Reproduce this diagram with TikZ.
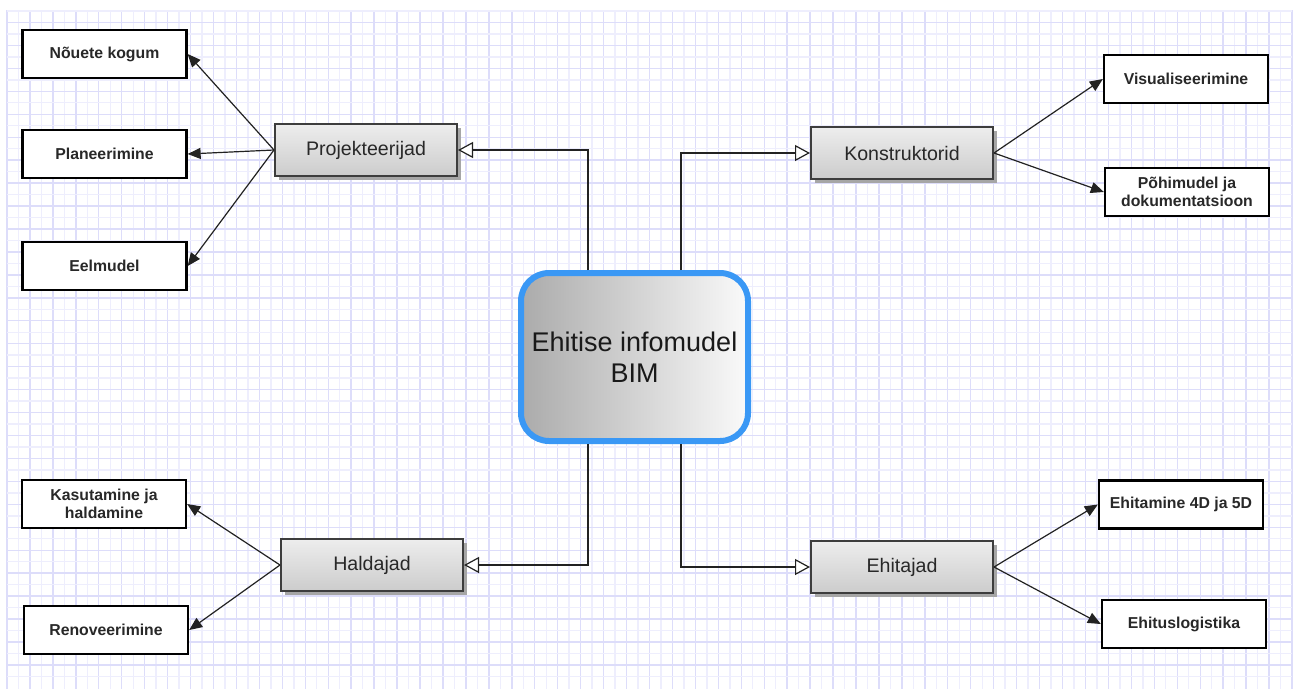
\documentclass[tikz,border=0pt]{standalone}
\usepackage{fontspec}
\setmainfont{Liberation Sans}
\usetikzlibrary{arrows.meta,shadows,calc}
\definecolor{gridminor}{RGB}{238,238,253}
\definecolor{gridmajor}{RGB}{221,221,250}
\definecolor{bimblue}{RGB}{58,152,245}
\definecolor{linegray}{RGB}{34,34,34}
\definecolor{txtgray}{RGB}{40,40,40}
\tikzset{
  leafbox/.style={draw=black, line width=2.3pt, fill=white, minimum width=164pt, minimum height=48pt,
    inner sep=0pt, align=center, text=txtgray, font=\fontsize{15.8}{18}\selectfont\bfseries},
  rolebox/.style={draw=txtgray!90, line width=2pt, top color=white!93!black, bottom color=white!80!black,
    minimum width=182pt, minimum height=52pt, inner sep=0pt, text=txtgray,
    font=\fontsize{19.6}{22}\selectfont,
    drop shadow={shadow xshift=4pt, shadow yshift=-4pt, fill=black!35, opacity=1}},
  hubbox/.style={draw=bimblue, line width=6pt, rounded corners=28pt, left color=black!33, right color=white!98!black,
    minimum width=227pt, minimum height=168pt, inner sep=0pt, align=center, text=black!90,
    font=\fontsize{27}{31}\selectfont},
  leafarrow/.style={draw=linegray, line width=1.2pt, -{Triangle[length=13pt,width=11pt]}},
  hubarrow/.style={draw=linegray, line width=1.2pt, -{Triangle[open,length=15pt,width=16pt,fill=white]}}
}
\begin{document}
\begin{tikzpicture}[x=1pt,y=-1pt]
\useasboundingbox (0,0) rectangle (1299,689);
\fill[white] (0,0) rectangle (1299,689);
% grid
\foreach \i in {0,...,112}{
  \pgfmathsetmacro{\xx}{7+11.473*\i}
  \pgfmathtruncatemacro{\odd}{mod(\i,2)}
  \ifnum\odd=0
    \draw[gridmajor,line width=1.4pt] (\xx,10) -- (\xx,689);
  \else
    \draw[gridminor,line width=1.4pt] (\xx,10) -- (\xx,689);
  \fi
}
\foreach \j in {0,...,58}{
  \pgfmathsetmacro{\yy}{11+11.473*\j}
  \pgfmathtruncatemacro{\odd}{mod(\j,2)}
  \ifnum\odd=1
    \draw[gridmajor,line width=1.4pt] (7,\yy) -- (1292,\yy);
  \else
    \draw[gridminor,line width=1.4pt] (7,\yy) -- (1292,\yy);
  \fi
}
% leaf boxes
\node[leafbox] (nk) at (104.5,54) {Nõuete kogum};
\node[leafbox] (pl) at (104.5,154) {Planeerimine};
\node[leafbox] (ee) at (104.5,266) {Eelmudel};
\node[leafbox] (ka) at (104,504) {Kasutamine ja\\haldamine};
\node[leafbox] (re) at (106,630) {Renoveerimine};
\node[leafbox] (vi) at (1186,79) {Visualiseerimine};
\node[leafbox] (po) at (1187,192) {Põhimudel ja\\dokumentatsioon};
\node[leafbox] (e45) at (1181,504.5) {Ehitamine 4D ja 5D};
\node[leafbox] (el) at (1184,624) {Ehituslogistika};
% role boxes
\node[rolebox] (pr) at (366,150) {Projekteerijad};
\node[rolebox] (ko) at (902,153) {Konstruktorid};
\node[rolebox] (ha) at (372,565) {Haldajad};
\node[rolebox] (eh) at (902,567) {Ehitajad};
% hub
\node[hubbox] (bim) at (634.5,357) {Ehitise infomudel\\BIM};
\coordinate (tl) at ([xshift=-46.5pt]bim.north);
\coordinate (tr) at ([xshift=46.5pt]bim.north);
\coordinate (bl) at ([xshift=-46.5pt]bim.south);
\coordinate (br) at ([xshift=46.5pt]bim.south);
% hub connectors
\draw[hubarrow] (tl) |- (pr.east);
\draw[hubarrow] (tr) |- (ko.west);
\draw[hubarrow] (bl) |- (ha.east);
\draw[hubarrow] (br) |- (eh.west);
% leaf connectors
\draw[leafarrow] (pr.west) -- (nk.east);
\draw[leafarrow] (pr.west) -- (pl.east);
\draw[leafarrow] (pr.west) -- (ee.east);
\draw[leafarrow] (ko.east) -- (vi.west);
\draw[leafarrow] (ko.east) -- (po.west);
\draw[leafarrow] (ha.west) -- (ka.east);
\draw[leafarrow] (ha.west) -- (re.east);
\draw[leafarrow] (eh.east) -- (e45.west);
\draw[leafarrow] (eh.east) -- (el.west);
\end{tikzpicture}
\end{document}
